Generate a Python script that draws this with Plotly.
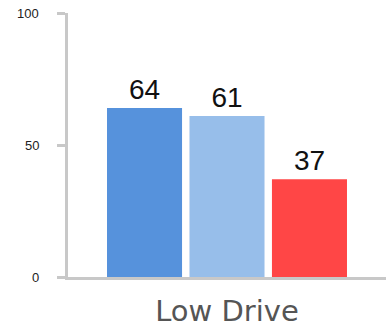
import plotly.graph_objects as go

categories = ["Low Drive"]
series_names = ["A", "B", "C"]
series_values = [[64], [61], [37]]
series_colors = ["#5692DC", "#97BEEA", "#FF4646"]
y_ticks = [0, 50, 100]

fig = go.Figure()
for name, vals, col in zip(series_names, series_values, series_colors):
    fig.add_trace(go.Bar(
        x=categories, y=vals, name=name,
        marker=dict(color=col, line=dict(width=0)),
        text=[str(v) for v in vals], textposition="outside",
        textfont=dict(family="Liberation Sans, Arial", size=28, color="#111111"),
        cliponaxis=False,
    ))

# y tick labels placed as right-aligned annotations beside the axis ticks
for t in y_ticks:
    fig.add_annotation(
        x=0, xref="paper", y=t, yref="y",
        text=str(t), showarrow=False,
        xanchor="right", yanchor="middle", xshift=-27,
        font=dict(family="Liberation Sans, Arial", size=13, color="#222222"),
    )

axis_grey = "#c8c8c8"
fig.update_layout(
    width=389, height=329,
    margin=dict(l=68, r=3, t=13, b=52),
    paper_bgcolor="white", plot_bgcolor="white",
    showlegend=False,
    barmode="group", bargap=0.222, bargroupgap=0.09,
    xaxis=dict(
        automargin=False,
        showline=True, linecolor=axis_grey, linewidth=3,
        ticks="", showgrid=False,
        tickfont=dict(family="DejaVu Sans", size=29, color="#555555"),
        ticklabelstandoff=6,
    ),
    yaxis=dict(
        automargin=False,
        range=[0, 100], tickvals=y_ticks, showticklabels=False,
        showline=True, linecolor=axis_grey, linewidth=3,
        ticks="outside", ticklen=8, tickwidth=3, tickcolor=axis_grey,
        showgrid=False, zeroline=False,
    ),
)

fig.write_html("out.html")
